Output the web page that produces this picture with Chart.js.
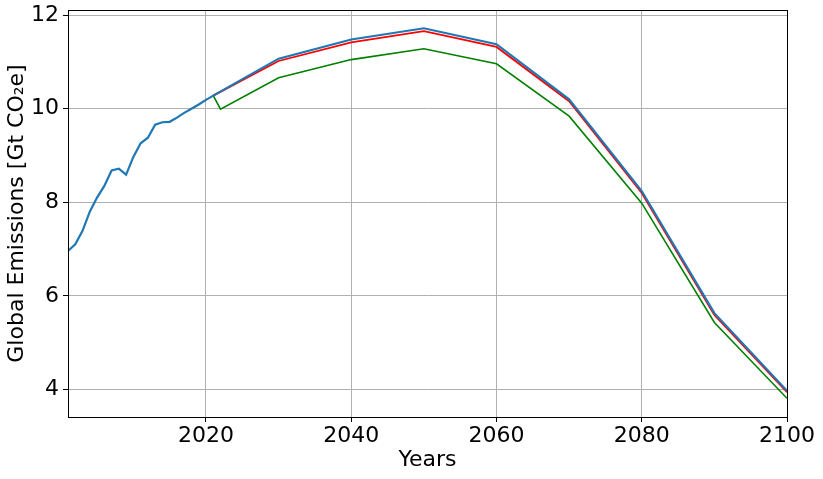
<!DOCTYPE html>
<html>
<head>
<meta charset="utf-8">
<script src="https://cdn.jsdelivr.net/npm/chart.js@4"></script>
<style>
  html, body { margin: 0; padding: 0; background: #fff; }
</style>
</head>
<body>
<canvas id="myChart" width="823" height="479"></canvas>
<script>
// DATOS
const histYears = [2001, 2002, 2003, 2004, 2005, 2006, 2007, 2008, 2009, 2010, 2011, 2012, 2013, 2014, 2015, 2016, 2017, 2018, 2019, 2020, 2021];
const histValues = [6.96, 7.10, 7.39, 7.80, 8.10, 8.35, 8.68, 8.72, 8.59, 8.97, 9.26, 9.38, 9.66, 9.71, 9.72, 9.81, 9.91, 10.00, 10.09, 10.19, 10.28];

const projYears = [2021, 2030, 2040, 2050, 2060, 2070, 2080, 2090, 2100];
const baseValues = [10.28, 11.07, 11.48, 11.72, 11.38, 10.20, 8.24, 5.63, 3.97];
const redValues = [10.28, 11.02, 11.42, 11.66, 11.32, 10.16, 8.20, 5.59, 3.94];

const greenYears = [2021, 2022, 2030, 2040, 2050, 2060, 2070, 2080, 2090, 2100];
const greenValues = [10.28, 9.99, 10.66, 11.05, 11.28, 10.96, 9.84, 7.98, 5.43, 3.81];

const xTicks = [2020, 2040, 2060, 2080, 2100];
const yTicks = [4, 6, 8, 10, 12];

function toPoints(xs, ys) {
    return xs.map((x, i) => ({ x: x, y: ys[i] }));
}

const blueData = toPoints(histYears, histValues).concat(toPoints(projYears.slice(1), baseValues.slice(1)));

// marco negro alrededor del area (como matplotlib)
const framePlugin = {
    id: 'frame',
    afterDraw(chart) {
        const a = chart.chartArea;
        const c = chart.ctx;
        c.save();
        c.strokeStyle = '#000';
        c.lineWidth = 1;
        c.strokeRect(Math.round(a.left) + 0.5, Math.round(a.top) + 0.5, Math.round(a.right - a.left), Math.round(a.bottom - a.top));
        c.restore();
    }
};

const fuente = { family: "'DejaVu Sans', sans-serif", size: 22 };

const ctx = document.getElementById('myChart');
new Chart(ctx, {
    type: 'line',
    data: {
        datasets: [
            { data: blueData, borderColor: '#1f77b4', borderWidth: 2.2, pointRadius: 0, tension: 0, order: 1 },
            { data: toPoints(projYears, redValues), borderColor: '#ff0000', borderWidth: 1.8, pointRadius: 0, tension: 0, order: 2 },
            { data: toPoints(greenYears, greenValues), borderColor: '#008000', borderWidth: 1.6, pointRadius: 0, tension: 0, order: 3 }
        ]
    },
    options: {
        responsive: false,
        animation: false,
        devicePixelRatio: 1,
        layout: { padding: { top: 10, right: 36, left: 0, bottom: 0 } },
        plugins: { legend: { display: false }, tooltip: { enabled: false } },
        scales: {
            x: {
                type: 'linear',
                min: 2001,
                max: 2100,
                afterBuildTicks: (s) => { s.ticks = xTicks.map(v => ({ value: v })); },
                afterFit: (s) => { s.height = 62; s.paddingLeft = 0; s.paddingRight = 0; },
                grid: { color: '#b0b0b0', lineWidth: 1, tickColor: '#000', tickLength: 5, drawOnChartArea: true },
                border: { display: false },
                ticks: { color: '#000', font: fuente, padding: 1, maxRotation: 0, callback: (v) => String(v) },
                title: { display: true, text: 'Years', color: '#000', font: fuente, padding: { top: 0, bottom: 6 } }
            },
            y: {
                min: 3.41,
                max: 12.11,
                afterBuildTicks: (s) => { s.ticks = yTicks.map(v => ({ value: v })); },
                afterFit: (s) => { s.width = 68; s.paddingTop = 0; s.paddingBottom = 0; },
                grid: { color: '#b0b0b0', lineWidth: 1, tickColor: '#000', tickLength: 5 },
                border: { display: false },
                ticks: { color: '#000', font: fuente, padding: 4, callback: (v) => String(v) },
                title: { display: true, text: 'Global Emissions [Gt CO\u2082e]', color: '#000', font: fuente, padding: { top: 4, bottom: 0 } }
            }
        }
    },
    plugins: [framePlugin]
});
</script>
</body>
</html>
